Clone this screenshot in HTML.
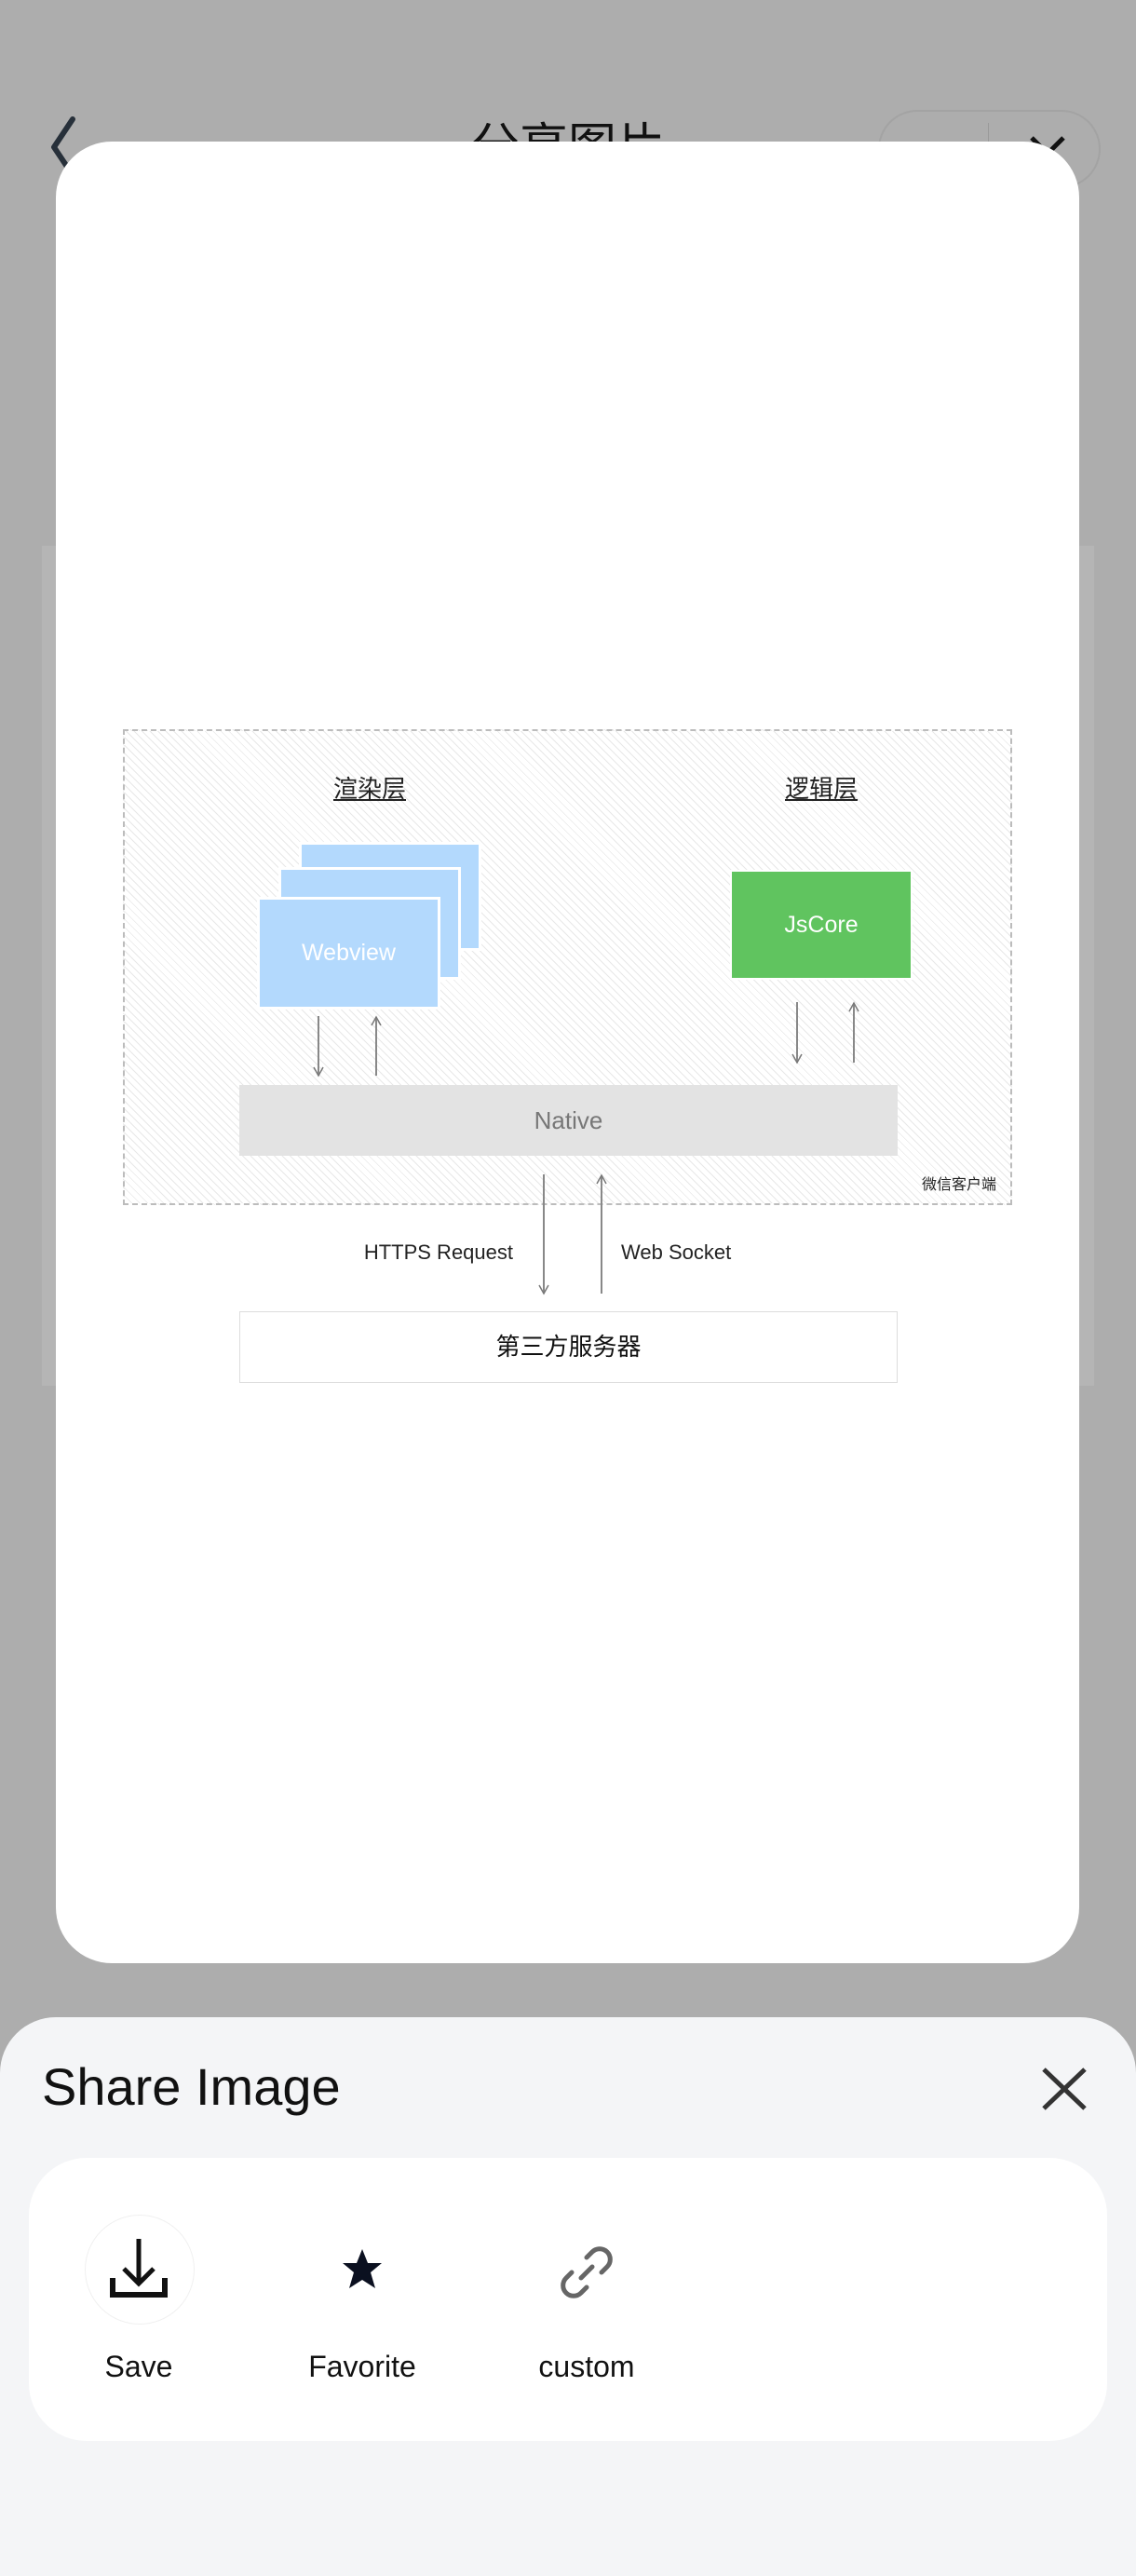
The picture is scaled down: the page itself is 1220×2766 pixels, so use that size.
<!DOCTYPE html>
<html><head><meta charset="utf-8"><style>
*{margin:0;padding:0;box-sizing:border-box}
body{width:1220px;height:2712px;background:#adadad;position:relative;overflow:hidden;font-family:"Liberation Sans","Noto Sans CJK SC",sans-serif}
.a{position:absolute}
.cn{font-family:"Liberation Sans","Noto Sans CJK SC",sans-serif}
</style></head><body>
<!-- header -->
<svg class="a" style="left:40px;top:118px" width="60" height="80"><polyline points="38,10 18,40 38,70" fill="none" stroke="#27303a" stroke-width="6" stroke-linecap="round" stroke-linejoin="round"/></svg>
<div class="a cn" style="left:400px;top:128px;width:420px;text-align:center;font-size:52px;line-height:60px;color:#111">分享图片</div>
<div class="a" style="left:943px;top:118px;width:239px;height:84px;border:2px solid #a3a3a3;border-radius:42px"></div>
<div class="a" style="left:1061px;top:132px;width:1px;height:56px;background:#999"></div>
<svg class="a" style="left:1100px;top:140px" width="50" height="50"><path d="M8 8L42 42M42 8L8 42" stroke="#111" stroke-width="5"/></svg>
<div class="a" style="left:45px;top:586px;width:1130px;height:902px;background:#b5b5b5"></div>
<!-- card -->
<div class="a" style="left:60px;top:152px;width:1099px;height:1956px;background:#fff;border-radius:60px"></div>
<!-- diagram -->
<div class="a" style="left:132px;top:783px;width:955px;height:511px;border:2px dashed #bcbcbc;background:repeating-linear-gradient(45deg,#fff 0 5px,#e8e8e8 5px 6px)"></div>
<div class="a cn" style="left:337px;top:830px;width:120px;text-align:center;font-size:26px;line-height:34px;color:#222;text-decoration:underline">渲染层</div>
<div class="a cn" style="left:822px;top:830px;width:120px;text-align:center;font-size:26px;line-height:34px;color:#222;text-decoration:underline">逻辑层</div>
<div class="a" style="left:321px;top:904px;width:196px;height:117px;background:#b3d9fd;border:3px solid #fff"></div>
<div class="a" style="left:299px;top:931px;width:196px;height:121px;background:#b3d9fd;border:3px solid #fff"></div>
<div class="a" style="left:276px;top:963px;width:197px;height:121px;background:#b3d9fd;border:3px solid #fff;color:#fff;font-size:25px;line-height:115px;text-align:center">Webview</div>
<div class="a" style="left:784px;top:934px;width:196px;height:118px;background:#60c45f;border:2px solid #fff;color:#fff;font-size:25px;line-height:114px;text-align:center">JsCore</div>
<div class="a" style="left:257px;top:1165px;width:707px;height:76px;background:#e3e3e3;color:#777;font-size:26px;line-height:76px;text-align:center">Native</div>
<div class="a cn" style="left:960px;top:1258px;width:110px;text-align:right;font-size:16px;color:#222">微信客户端</div>
<svg class="a" style="left:0;top:0" width="1220" height="1500">
<defs><marker id="m" markerWidth="12" markerHeight="12" refX="10" refY="6" orient="auto" markerUnits="userSpaceOnUse"><path d="M1 1L10 6L1 11" fill="none" stroke="#777" stroke-width="1.5"/></marker></defs>
<g stroke="#888" stroke-width="2">
<line x1="342" y1="1091" x2="342" y2="1155" marker-end="url(#m)"/>
<line x1="404" y1="1155" x2="404" y2="1092" marker-end="url(#m)"/>
<line x1="856" y1="1076" x2="856" y2="1141" marker-end="url(#m)"/>
<line x1="917" y1="1141" x2="917" y2="1077" marker-end="url(#m)"/>
<line x1="584" y1="1261" x2="584" y2="1389" marker-end="url(#m)"/>
<line x1="646" y1="1389" x2="646" y2="1262" marker-end="url(#m)"/>
</g></svg>
<div class="a" style="left:300px;top:1332px;width:251px;text-align:right;font-size:22px;color:#222">HTTPS Request</div>
<div class="a" style="left:667px;top:1332px;font-size:22px;color:#222">Web Socket</div>
<div class="a cn" style="left:257px;top:1408px;width:707px;height:77px;background:#fff;border:1px solid #ddd;font-size:26px;line-height:75px;text-align:center;color:#111">第三方服务器</div>
<!-- sheet -->
<div class="a" style="left:0;top:2166px;width:1220px;height:600px;background:#f4f5f7;border-radius:60px 60px 0 0"></div>
<div class="a" style="left:45px;top:2210px;font-size:56px;line-height:62px;color:#111">Share Image</div>
<svg class="a" style="left:1115px;top:2218px" width="56" height="50"><path d="M6 4L50 46M50 4L6 46" stroke="#333" stroke-width="5"/></svg>
<div class="a" style="left:31px;top:2317px;width:1158px;height:304px;background:#fff;border-radius:62px"></div>
<div class="a" style="left:91px;top:2378px;width:118px;height:118px;border-radius:50%;border:1px solid #f0f0f0"></div>
<svg class="a" style="left:117px;top:2400px" width="64" height="72"><path d="M32 4V50M16 36L32 52L48 36" fill="none" stroke="#111" stroke-width="5"/><path d="M4 46V64H60V46" fill="none" stroke="#111" stroke-width="6"/></svg>
<svg class="a" style="left:365px;top:2412px" width="48" height="48"><path d="M24 3L30 18L45 18L33 28L38 45L24 36L10 45L15 28L3 18L18 18Z" fill="#0b1020"/></svg>
<svg class="a" style="left:600px;top:2410px" width="60" height="60"><g fill="none" stroke="#666" stroke-width="5" stroke-linecap="round"><path d="M30 14L36 8A8 8 0 0 1 52 24L46 30"/><path d="M30 46L24 52A8 8 0 0 1 8 36L14 30"/><path d="M36 24L24 36"/></g></svg>
<div class="a" style="left:79px;top:2523px;width:140px;text-align:center;font-size:32px;color:#111">Save</div>
<div class="a" style="left:309px;top:2523px;width:160px;text-align:center;font-size:32px;color:#111">Favorite</div>
<div class="a" style="left:550px;top:2523px;width:160px;text-align:center;font-size:32px;color:#111">custom</div>
</body></html>
